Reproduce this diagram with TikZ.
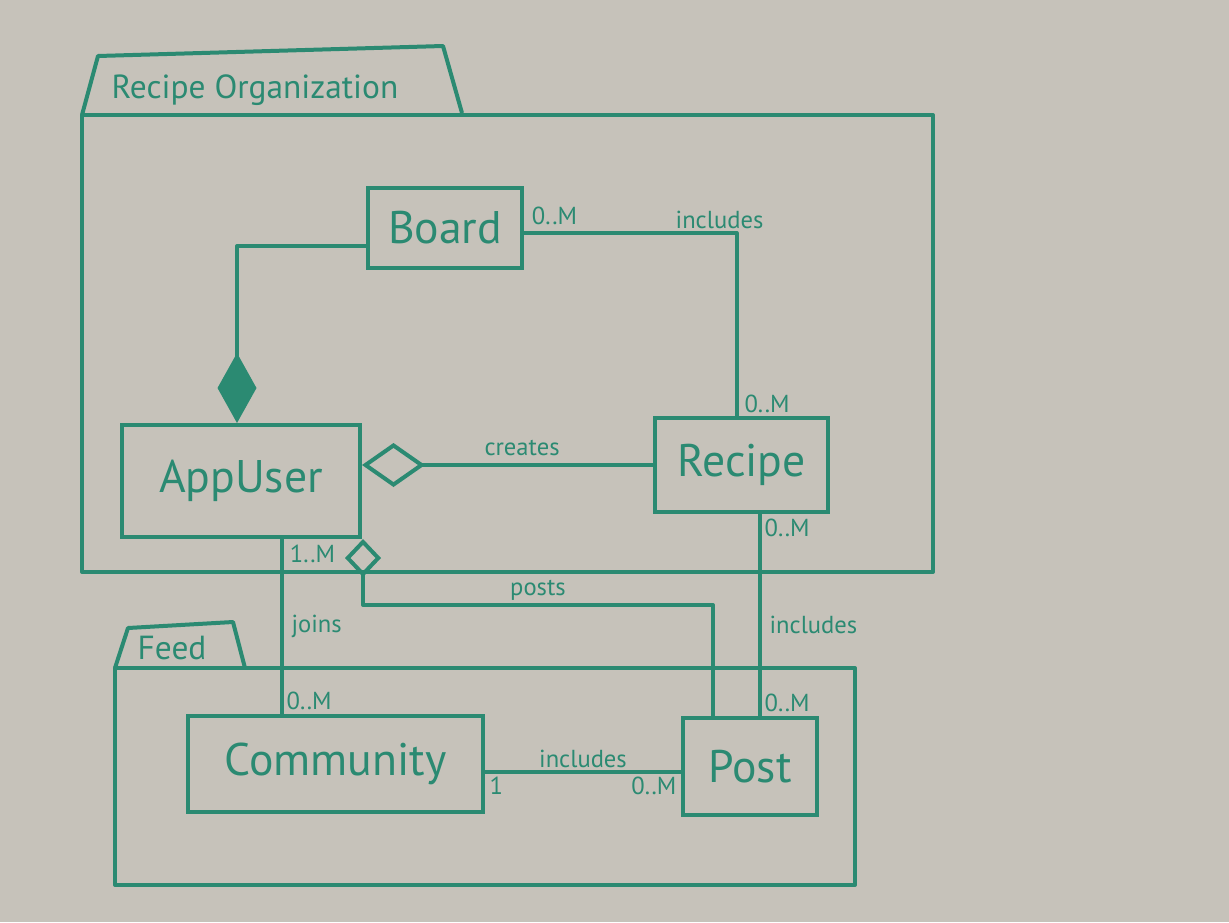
\documentclass[tikz,border=0pt]{standalone}
\usepackage{fontspec}
\setmainfont{PT Sans}
\usetikzlibrary{arrows.meta,calc,positioning}
\definecolor{wbBoard}{HTML}{C6C2BA}
\definecolor{wbInk}{HTML}{2B8A72}
\tikzset{
  wb canvas/.style={fill=wbBoard},
  wb package/.style={draw=wbInk, line width=.8mm, line join=round},
  wb class/.style={
    draw=wbInk,
    line width=.8mm,
    text=wbInk,
    inner sep=0pt,
    font=\fontsize{26}{30}\selectfont
  },
  wb link/.style={draw=wbInk, line width=.8mm, line join=round},
  wb composition/.style={
    wb link,
    -{Diamond[length=14mm,width=7.8mm]}
  },
  wb aggregation/.style={
    wb link,
    -{Diamond[open,length=12.6mm,width=8.8mm]}
  },
  wb aggregation small/.style={
    wb link,
    -{Diamond[open,length=7.6mm,width=7.2mm]}
  },
  wb label/.style={font=\fontsize{14}{16}\selectfont, text=wbInk, inner sep=1.5pt},
  wb title/.style={font=\fontsize{19}{22}\selectfont, text=wbInk}
}

\begin{document}
\begin{tikzpicture}[x=.2mm,y=-.2mm]
  \path[wb canvas] (0,0) rectangle (1229,922);

  % packages
  \draw[wb package] (82,115) -- (98,56) -- (443,46) -- (462,113);
  \draw[wb package] (82,115) rectangle (933,572);
  \node[wb title] at (255,90) {Recipe Organization};

  \draw[wb package] (115,668) -- (128,628) -- (233,622) -- (245,668);
  \draw[wb package] (115,668) rectangle (855,885);
  \node[wb title] at (172,648) {Feed};

  % classes
  \node[wb class, minimum width=30.8mm, minimum height=16mm] (board) at (445,228) {Board};
  \node[wb class, minimum width=47.6mm, minimum height=22.4mm] (appuser) at (241,481) {AppUser};
  \node[wb class, minimum width=34.6mm, minimum height=18.8mm] (recipe) at (741.5,465) {Recipe};
  \node[wb class, minimum width=59mm, minimum height=19.2mm] (community) at (335.5,764) {Community};
  \node[wb class, minimum width=26.8mm, minimum height=19.4mm] (post) at (750,766.5) {Post};

  % associations
  \draw[wb composition] ([yshift=-3.6mm]board.west) -| ([xshift=-.8mm]appuser.north);

  \draw[wb aggregation] (recipe.west) -- (recipe.west -| appuser.east)
    node[wb label, pos=.45, above=1mm] {creates};

  \draw[wb link] ([yshift=-1mm]board.east) -| ([xshift=-1mm]recipe.north)
    node[wb label, pos=.46, above] {includes};
  \node[wb label, above right=0mm and 1mm of board.east] {0..M};
  \node[wb label, above right=0mm and 0mm of recipe.north] {0..M};

  \coordinate (joinTop) at ([xshift=8.2mm]appuser.south);
  \draw[wb link] (joinTop) -- (joinTop |- community.north)
    node[wb label, pos=.5, right=1mm] {joins}
    node[wb label, pos=1, above right] {0..M};
  \node[wb label, below right=.5mm and 1mm of joinTop] {1..M};

  \draw[wb aggregation small] ([xshift=-7.4mm]post.north)
    |- ([xshift=24.4mm,yshift=-13.2mm]appuser.south)
    node[wb label, pos=.75, above] {posts}
    -- ([xshift=24.4mm]appuser.south);

  \coordinate (recipeFoot) at ([xshift=3.7mm]recipe.south);
  \draw[wb link] (recipeFoot) -- (recipeFoot |- post.north)
    node[wb label, pos=0, below right] {0..M}
    node[wb label, pos=.55, right=1mm] {includes}
    node[wb label, pos=1, above right] {0..M};

  \coordinate (feedLink) at ([yshift=-1.6mm]community.east);
  \draw[wb link] (feedLink) -- (feedLink -| post.west)
    node[wb label, pos=.5, above] {includes}
    node[wb label, pos=0, below right] {1}
    node[wb label, pos=1, below left] {0..M};
\end{tikzpicture}
\end{document}
